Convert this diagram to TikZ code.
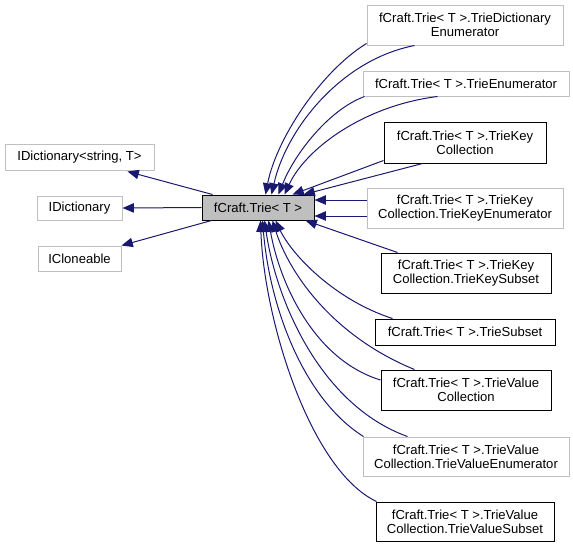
\documentclass[tikz,border=0pt]{standalone}
\usepackage{fontspec}
\setmainfont{Liberation Sans}
\usetikzlibrary{arrows.meta,calc}
\definecolor{navyedge}{HTML}{191970}
\definecolor{lightgrey}{HTML}{BFBFBF}
\tikzset{
  sz/.style 2 args={minimum width=#1*0.75pt, minimum height=#2*0.75pt},
  cls/.style={rectangle, inner sep=0pt, align=center, line width=0.75pt,
    font=\fontsize{9.8}{10.6}\selectfont},
  greybox/.style={cls, draw=lightgrey},
  blackbox/.style={cls, draw=black},
  mainbox/.style={cls, draw=black, fill=lightgrey},
  inh/.style={draw=navyedge, line width=0.75pt, -{Triangle[length=8.5pt,width=7pt]}}
}
\begin{document}
\begin{tikzpicture}[x=0.75pt,y=-0.75pt]
\useasboundingbox (0,0) rectangle (573,547);

\node[greybox,sz={149}{26}](dictst) at (79.5,157) {IDictionary<string, T>};
\node[greybox,sz={85}{24}](dict) at (79.5,208) {IDictionary};
\node[greybox,sz={83}{25}](clone) at (79.5,258.5) {ICloneable};
\node[mainbox,sz={112}{25}](trie) at (258,207.5) {fCraft.Trie< T >};

\node[greybox,sz={196}{40}](dictenum) at (465,25) {fCraft.Trie< T >.TrieDictionary\\Enumerator};
\node[greybox,sz={206}{25}](enum) at (466,83.5) {fCraft.Trie< T >.TrieEnumerator};
\node[blackbox,sz={162}{41}](keycoll) at (465,142.5) {fCraft.Trie< T >.TrieKey\\Collection};
\node[greybox,sz={196}{40}](keyenum) at (465,208) {fCraft.Trie< T >.TrieKey\\Collection.TrieKeyEnumerator};
\node[blackbox,sz={170}{40}](keysub) at (466,273) {fCraft.Trie< T >.TrieKey\\Collection.TrieKeySubset};
\node[blackbox,sz={180}{26}](sub) at (465,332) {fCraft.Trie< T >.TrieSubset};
\node[blackbox,sz={170}{40}](valcoll) at (466,390) {fCraft.Trie< T >.TrieValue\\Collection};
\node[greybox,sz={206}{39}](valenum) at (466,456.5) {fCraft.Trie< T >.TrieValue\\Collection.TrieValueEnumerator};
\node[blackbox,sz={178}{39}](valsub) at (465,521.5) {fCraft.Trie< T >.TrieValue\\Collection.TrieValueSubset};

\draw[inh] ($(trie.north west)+(11,0)$)--($(dictst.south west)+(123,1)$);
\draw[inh] (trie.west)--(dict.east);
\draw[inh] ($(trie.south west)+(10,0)$)--(clone.north east);

\draw[inh] ($(dictenum.south west)+(0,-2)$) .. controls (320,72) and (276,140) .. ($(trie.north west)+(64,0)$);
\draw[inh] ($(dictenum.south west)+(48,0)$) .. controls (340,60) and (286,130) .. ($(trie.north west)+(70,0)$);
\draw[inh] ($(enum.south west)+(2,0)$) .. controls (328,110) and (294,155) .. ($(trie.north west)+(77,0)$);
\draw[inh] ($(enum.south west)+(75,0)$) .. controls (362,106) and (305,150) .. ($(trie.north west)+(83,0)$);
\draw[inh] ($(keycoll.south west)+(0,-3)$)--($(trie.north west)+(91,0)$);
\draw[inh] ($(keycoll.south west)+(39,0)$)--($(trie.north west)+(102,0)$);
\draw[inh] ($(keyenum.west)+(0,-8)$)--($(trie.east)+(0,-7.5)$);
\draw[inh] ($(keyenum.west)+(0,8)$)--($(trie.east)+(0,8.5)$);

\draw[inh] ($(keysub.north west)+(17,0)$)--($(trie.south east)+(-9,0)$);
\draw[inh] ($(sub.north west)+(18,0)$) .. controls (335,300) and (292,255) .. ($(trie.south west)+(74,0)$);
\draw[inh] ($(valcoll.north west)+(34,0)$) .. controls (330,335) and (288,270) .. ($(trie.south west)+(71,0)$);
\draw[inh] ($(valcoll.west)+(0,-10)$) .. controls (315,360) and (280,285) .. ($(trie.south west)+(67,0)$);
\draw[inh] ($(valenum.north west)+(45,0)$) .. controls (320,405) and (276,300) .. ($(trie.south west)+(63,0)$);
\draw[inh] ($(valenum.north west)+(1,0)$) .. controls (305,400) and (270,310) .. ($(trie.south west)+(61,0)$);
\draw[inh] ($(valsub.north west)+(1,0)$) .. controls (310,470) and (264,320) .. ($(trie.south west)+(59,0)$);

\end{tikzpicture}
\end{document}
